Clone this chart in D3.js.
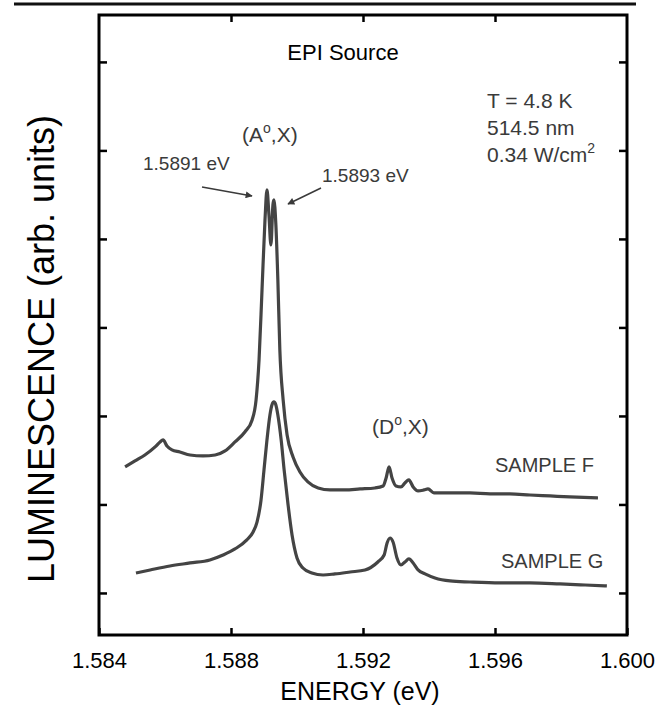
<!DOCTYPE html>
<html>
<head>
<meta charset="utf-8">
<script src="https://cdn.jsdelivr.net/npm/d3@7"></script>
<style>
  body { margin: 0; background: #fff; }
  text { font-family: "Liberation Sans", Arial, sans-serif; }
</style>
</head>
<body>
<div class="chart"></div>
<script>
// energy (eV) and luminescence (arb. units)
const energyF = [1.58479,1.58509,1.58539,1.58570,1.58585,1.58594,1.58606,1.58621,1.58645,1.58676,1.58715,1.58752,1.58782,1.58812,1.58842,1.58864,1.58876,1.58885,1.58894,1.58903,1.58909,1.58915,1.58921,1.58927,1.58930,1.58936,1.58942,1.58948,1.58958,1.58970,1.58988,1.59009,1.59033,1.59064,1.59100,1.59145,1.59191,1.59236,1.59261,1.59270,1.59279,1.59288,1.59300,1.59315,1.59327,1.59339,1.59352,1.59367,1.59385,1.59397,1.59415,1.59464,1.59524,1.59585,1.59645,1.59706,1.59767,1.59827,1.59912]
const lumF = [2.424,2.492,2.559,2.650,2.706,2.729,2.661,2.616,2.593,2.559,2.548,2.559,2.605,2.706,2.819,2.955,3.181,3.633,4.424,5.215,5.554,5.271,4.932,5.384,5.441,5.158,4.537,3.746,3.181,2.785,2.537,2.367,2.254,2.186,2.164,2.164,2.175,2.186,2.209,2.299,2.424,2.299,2.209,2.198,2.243,2.277,2.198,2.153,2.164,2.175,2.130,2.130,2.130,2.119,2.119,2.107,2.096,2.085,2.073]

const energyG = [1.58512,1.58555,1.58615,1.58676,1.58736,1.58776,1.58812,1.58848,1.58867,1.58879,1.58891,1.58900,1.58909,1.58918,1.58924,1.58930,1.58936,1.58942,1.58952,1.58961,1.58973,1.58985,1.59000,1.59018,1.59045,1.59079,1.59115,1.59161,1.59206,1.59245,1.59264,1.59273,1.59282,1.59291,1.59303,1.59315,1.59327,1.59339,1.59352,1.59367,1.59388,1.59418,1.59464,1.59524,1.59615,1.59706,1.59797,1.59873,1.59939]
const lumG = [1.226,1.260,1.305,1.339,1.373,1.429,1.497,1.599,1.689,1.802,2.051,2.390,2.729,3.011,3.124,3.158,3.124,3.011,2.729,2.390,1.994,1.655,1.395,1.282,1.226,1.203,1.215,1.237,1.260,1.350,1.429,1.565,1.621,1.576,1.395,1.316,1.350,1.384,1.339,1.260,1.215,1.169,1.136,1.124,1.113,1.113,1.102,1.090,1.079]

const xLabels = [1.584, 1.588, 1.592, 1.596, 1.600]
const xInner = [1.588, 1.592, 1.596]
const yTicks = [1, 2, 3, 4, 5, 6, 7]

const W = 659, H = 714
const pLeft = 99, pRight = 627, pTop = 15, pBottom = 635

const svg = d3.select('.chart')
  .append('svg')
  .attr('width', W)
  .attr('height', H)

const x = d3.scaleLinear().domain([1.584, 1.600]).range([pLeft, pRight])
const y = d3.scaleLinear().domain([0.525, 7.53]).range([pBottom, pTop])

// page rule at the very top
svg.append('line')
  .attr('x1', 14).attr('x2', 636)
  .attr('y1', 4).attr('y2', 4)
  .attr('stroke', '#111').attr('stroke-width', 3)

// axes (ticks point inward)
const bx = svg.append('g')
  .attr('transform', `translate(0,${pBottom})`)
  .call(d3.axisBottom(x).tickValues(xLabels).tickFormat(d3.format('.3f'))
    .tickSizeInner(-7).tickSizeOuter(0).tickPadding(17))
bx.selectAll('text').attr('font-size', 22).attr('fill', '#000')
  .style('font-family', '"Liberation Sans", Arial, sans-serif')

svg.append('g')
  .attr('transform', `translate(0,${pTop})`)
  .call(d3.axisTop(x).tickValues(xInner).tickFormat('').tickSizeInner(-7).tickSizeOuter(0))

svg.append('g')
  .attr('transform', `translate(${pLeft},0)`)
  .call(d3.axisLeft(y).tickValues(yTicks).tickFormat('').tickSizeInner(-8).tickSizeOuter(0))

svg.append('g')
  .attr('transform', `translate(${pRight},0)`)
  .call(d3.axisRight(y).tickValues(yTicks).tickFormat('').tickSizeInner(-8).tickSizeOuter(0))

svg.selectAll('.domain').remove()
svg.selectAll('.tick line').attr('stroke', '#000').attr('stroke-width', 2.5)

svg.append('rect')
  .attr('x', pLeft).attr('y', pTop)
  .attr('width', pRight - pLeft).attr('height', pBottom - pTop)
  .attr('fill', 'none').attr('stroke', '#000').attr('stroke-width', 3)

// spectra
const line = d3.line()
  .x(d => x(d[0]))
  .y(d => y(d[1]))
  .curve(d3.curveMonotoneX)

const series = [d3.zip(energyF, lumF), d3.zip(energyG, lumG)]
svg.selectAll('path.spec')
  .data(series)
  .enter()
  .append('path')
  .attr('class', 'spec')
  .attr('d', line)
  .attr('fill', 'none')
  .attr('stroke', '#444')
  .attr('stroke-width', 3.2)
  .attr('stroke-linejoin', 'round')

// labels
svg.append('text')
  .attr('x', 343).attr('y', 60)
  .attr('text-anchor', 'middle')
  .attr('font-size', 22)
  .text('EPI Source')

svg.append('text')
  .attr('x', 360).attr('y', 700)
  .attr('text-anchor', 'middle')
  .attr('font-size', 25)
  .text('ENERGY (eV)')

svg.append('text')
  .attr('transform', 'translate(54,349) rotate(-90)')
  .attr('text-anchor', 'middle')
  .attr('font-size', 36)
  .text('LUMINESCENCE (arb. units)')

const gray = '#3a3a3a'
const cond = ['T = 4.8 K', '514.5 nm']
svg.selectAll('text.cond')
  .data(cond)
  .enter()
  .append('text')
  .attr('class', 'cond')
  .attr('x', 487)
  .attr('y', (d, i) => 108 + i * 27)
  .attr('font-size', 21)
  .attr('fill', gray)
  .text(d => d)

const pw = svg.append('text')
  .attr('x', 487).attr('y', 162)
  .attr('font-size', 21)
  .attr('fill', gray)
pw.append('tspan').text('0.34 W/cm')
pw.append('tspan').attr('dy', -9).attr('font-size', 14).text('2')

function exciton(letter, cx, by) {
  const t = svg.append('text')
    .attr('x', cx).attr('y', by)
    .attr('font-size', 21)
    .attr('fill', gray)
  t.append('tspan').text('(' + letter)
  t.append('tspan').attr('dy', -9).attr('font-size', 14).text('o')
  t.append('tspan').attr('dy', 9).text(',X)')
}
exciton('A', 242, 142)
exciton('D', 372, 434)

svg.append('text')
  .attr('x', 143).attr('y', 170)
  .attr('font-size', 19)
  .attr('fill', gray)
  .text('1.5891 eV')

svg.append('text')
  .attr('x', 322).attr('y', 182)
  .attr('font-size', 19)
  .attr('fill', gray)
  .text('1.5893 eV')

svg.append('text')
  .attr('x', 495).attr('y', 472)
  .attr('font-size', 20)
  .attr('fill', gray)
  .text('SAMPLE F')

svg.append('text')
  .attr('x', 501).attr('y', 568)
  .attr('font-size', 20)
  .attr('fill', gray)
  .text('SAMPLE G')

// arrows
const defs = svg.append('defs')
defs.append('marker')
  .attr('id', 'arr')
  .attr('viewBox', '0 0 10 10')
  .attr('refX', 9).attr('refY', 5)
  .attr('markerWidth', 9).attr('markerHeight', 7)
  .attr('markerUnits', 'userSpaceOnUse')
  .attr('orient', 'auto')
  .append('path')
  .attr('d', 'M0,0 L10,5 L0,10 z')
  .attr('fill', gray)

const arrows = [[202, 187, 252, 196], [321, 188, 288, 204]]
svg.selectAll('line.arrow')
  .data(arrows)
  .enter()
  .append('line')
  .attr('class', 'arrow')
  .attr('x1', d => d[0]).attr('y1', d => d[1])
  .attr('x2', d => d[2]).attr('y2', d => d[3])
  .attr('stroke', gray)
  .attr('stroke-width', 1.5)
  .attr('marker-end', 'url(#arr)')
</script>
</body>
</html>
